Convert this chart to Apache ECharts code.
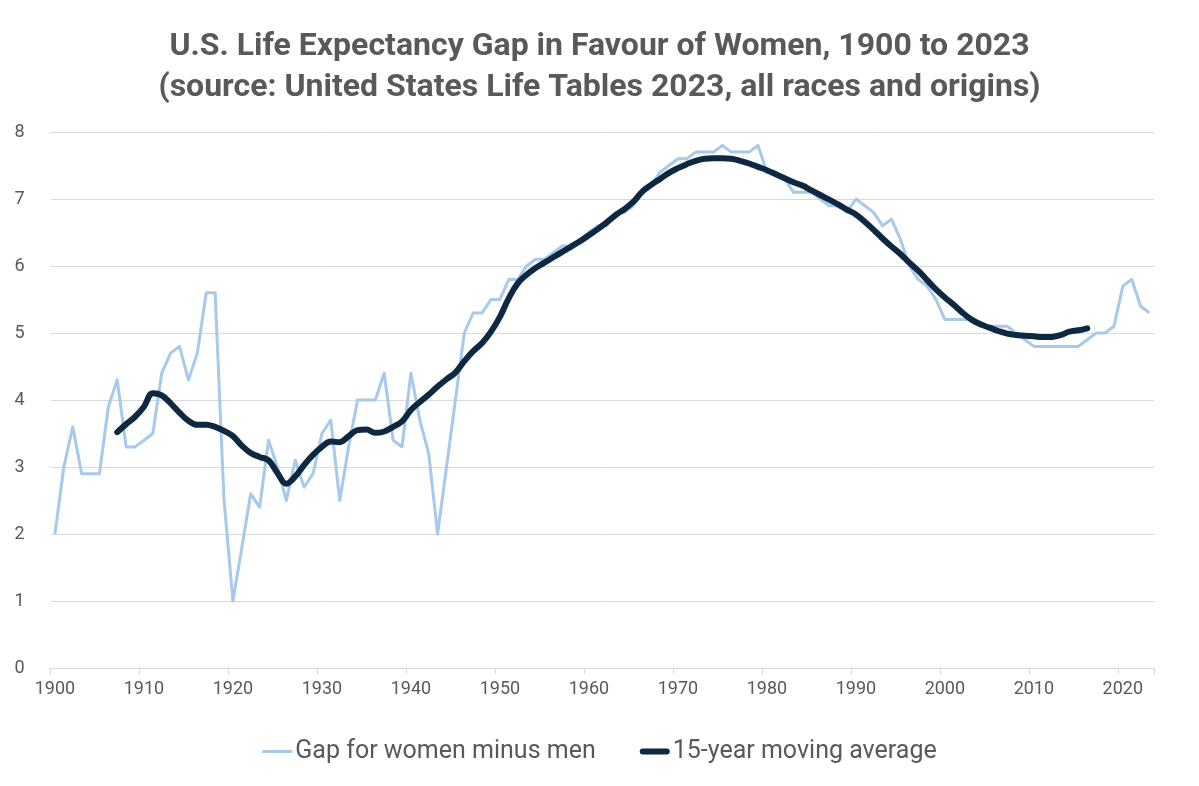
<!DOCTYPE html>
<html>
<head>
<meta charset="utf-8">
<script src="https://cdn.jsdelivr.net/npm/echarts@6/dist/echarts.min.js"></script>
<style>
html,body{margin:0;padding:0;background:#fff;}
#c{width:1199px;height:786px;}
</style>
</head>
<body>
<div id="c"></div>
<script>
const firstYear = 1900, lastYear = 2023;
const years = [];
for (let y = firstYear; y <= lastYear; y++) years.push(String(y));

const gapValues = [
  2.0, 3.0, 3.6, 2.9, 2.9, 2.9, 3.9, 4.3, 3.3, 3.3,
  3.4, 3.5, 4.4, 4.7, 4.8, 4.3, 4.7, 5.6, 5.6, 2.5,
  1.0, 1.8, 2.6, 2.4, 3.4, 3.0, 2.5, 3.1, 2.7, 2.9,
  3.5, 3.7, 2.5, 3.3, 4.0, 4.0, 4.0, 4.4, 3.4, 3.3,
  4.4, 3.7, 3.2, 2.0, 3.0, 4.0, 5.0, 5.3, 5.3, 5.5,
  5.5, 5.8, 5.8, 6.0, 6.1, 6.1, 6.2, 6.3, 6.3, 6.4,
  6.5, 6.6, 6.6, 6.8, 6.8, 6.9, 7.1, 7.2, 7.4, 7.5,
  7.6, 7.6, 7.7, 7.7, 7.7, 7.8, 7.7, 7.7, 7.7, 7.8,
  7.4, 7.4, 7.3, 7.1, 7.1, 7.1, 7.0, 6.9, 6.9, 6.8,
  7.0, 6.9, 6.8, 6.6, 6.7, 6.4, 6.0, 5.8, 5.7, 5.5,
  5.2, 5.2, 5.2, 5.2, 5.1, 5.1, 5.1, 5.1, 5.0, 4.9,
  4.8, 4.8, 4.8, 4.8, 4.8, 4.8, 4.9, 5.0, 5.0, 5.1,
  5.7, 5.8, 5.4, 5.3
];

// 15-year moving average, 1907 .. 2016
const maFirstYear = 1907;
const maValues = [
  3.52, 3.64, 3.75, 3.90,
  4.10, 4.07, 3.95, 3.81, 3.69, 3.63, 3.63, 3.60, 3.54,
  3.46, 3.32, 3.21, 3.15, 3.10, 2.91, 2.75, 2.86, 3.03, 3.18,
  3.30, 3.38, 3.37, 3.46, 3.55, 3.56, 3.51, 3.53, 3.60, 3.68,
  3.85, 3.97, 4.08, 4.20, 4.31, 4.41, 4.58, 4.73, 4.85, 5.02,
  5.24, 5.52, 5.74, 5.87, 5.97, 6.05, 6.13, 6.21, 6.29, 6.37,
  6.46, 6.55, 6.65, 6.76, 6.85, 6.96, 7.11, 7.21, 7.30, 7.39,
  7.46, 7.52, 7.57, 7.60, 7.61, 7.61, 7.60, 7.57, 7.53, 7.48,
  7.43, 7.37, 7.31, 7.25, 7.20, 7.13, 7.06, 6.99, 6.92, 6.84,
  6.77, 6.66, 6.54, 6.41, 6.29, 6.18, 6.05, 5.93, 5.79, 5.65,
  5.53, 5.42, 5.30, 5.20, 5.13, 5.08, 5.03, 4.99, 4.97, 4.96,
  4.95, 4.94, 4.94, 4.97, 5.02, 5.04, 5.07
];

const yTicks = [0, 1, 2, 3, 4, 5, 6, 7, 8];

const maSeries = years.map(function (y) {
  const i = Number(y) - maFirstYear;
  return (i >= 0 && i < maValues.length) ? maValues[i] : null;
});

const FONT = "'Roboto', 'Liberation Sans', sans-serif";
const TXT = '#595959';

const chart = echarts.init(document.getElementById('c'), null, {renderer: 'canvas'});
chart.setOption({
  backgroundColor: '#ffffff',
  animation: false,
  title: {
    text: 'U.S. Life Expectancy Gap in Favour of Women, 1900 to 2023\n(source: United States Life Tables 2023, all races and origins)',
    left: 'center',
    top: 21,
    textStyle: {
      fontFamily: FONT,
      fontSize: 32,
      fontWeight: 'bold',
      color: TXT,
      lineHeight: 41
    }
  },
  grid: {left: 50.5, right: 45, top: 132, bottom: 118, containLabel: false},
  legend: {
    bottom: 17,
    left: 'center',
    itemWidth: 30,
    itemHeight: 10,
    itemGap: 44,
    textStyle: {fontFamily: FONT, fontSize: 25, color: TXT, padding: [0, 0, 0, -2]},
    data: [
      {name: 'Gap for women minus men', icon: 'path://M0,4.5 L30,4.5 L30,7.5 L0,7.5 Z'},
      {name: '15-year moving average', icon: 'path://M3,2.5 L27,2.5 A3,3 0 0 1 27,8.5 L3,8.5 A3,3 0 0 1 3,2.5 Z'}
    ]
  },
  xAxis: {
    type: 'category',
    data: years,
    boundaryGap: true,
    axisLine: {show: true, lineStyle: {color: '#d9d9d9', width: 1}},
    axisTick: {show: true, interval: 9, length: 6, lineStyle: {color: '#d9d9d9'}},
    axisLabel: {interval: 9, color: TXT, fontFamily: FONT, fontSize: 18, margin: 12},
    splitLine: {show: false}
  },
  yAxis: {
    type: 'value',
    min: yTicks[0],
    max: yTicks[yTicks.length - 1],
    interval: 1,
    axisLine: {show: false},
    axisTick: {show: false},
    axisLabel: {color: TXT, fontFamily: FONT, fontSize: 18, margin: 26},
    splitLine: {lineStyle: {color: '#d9d9d9', width: 1}}
  },
  series: [
    {
      name: 'Gap for women minus men',
      type: 'line',
      data: gapValues,
      symbol: 'none',
      smooth: false,
      itemStyle: {color: '#a6c9ec'},
      lineStyle: {color: '#a6c9ec', width: 3, join: 'round'},
      z: 2
    },
    {
      name: '15-year moving average',
      type: 'line',
      data: maSeries,
      symbol: 'none',
      smooth: 0.4,
      connectNulls: false,
      itemStyle: {color: '#0e2841'},
      lineStyle: {color: '#0e2841', width: 6, cap: 'round', join: 'round'},
      z: 3
    }
  ]
});
</script>
</body>
</html>
